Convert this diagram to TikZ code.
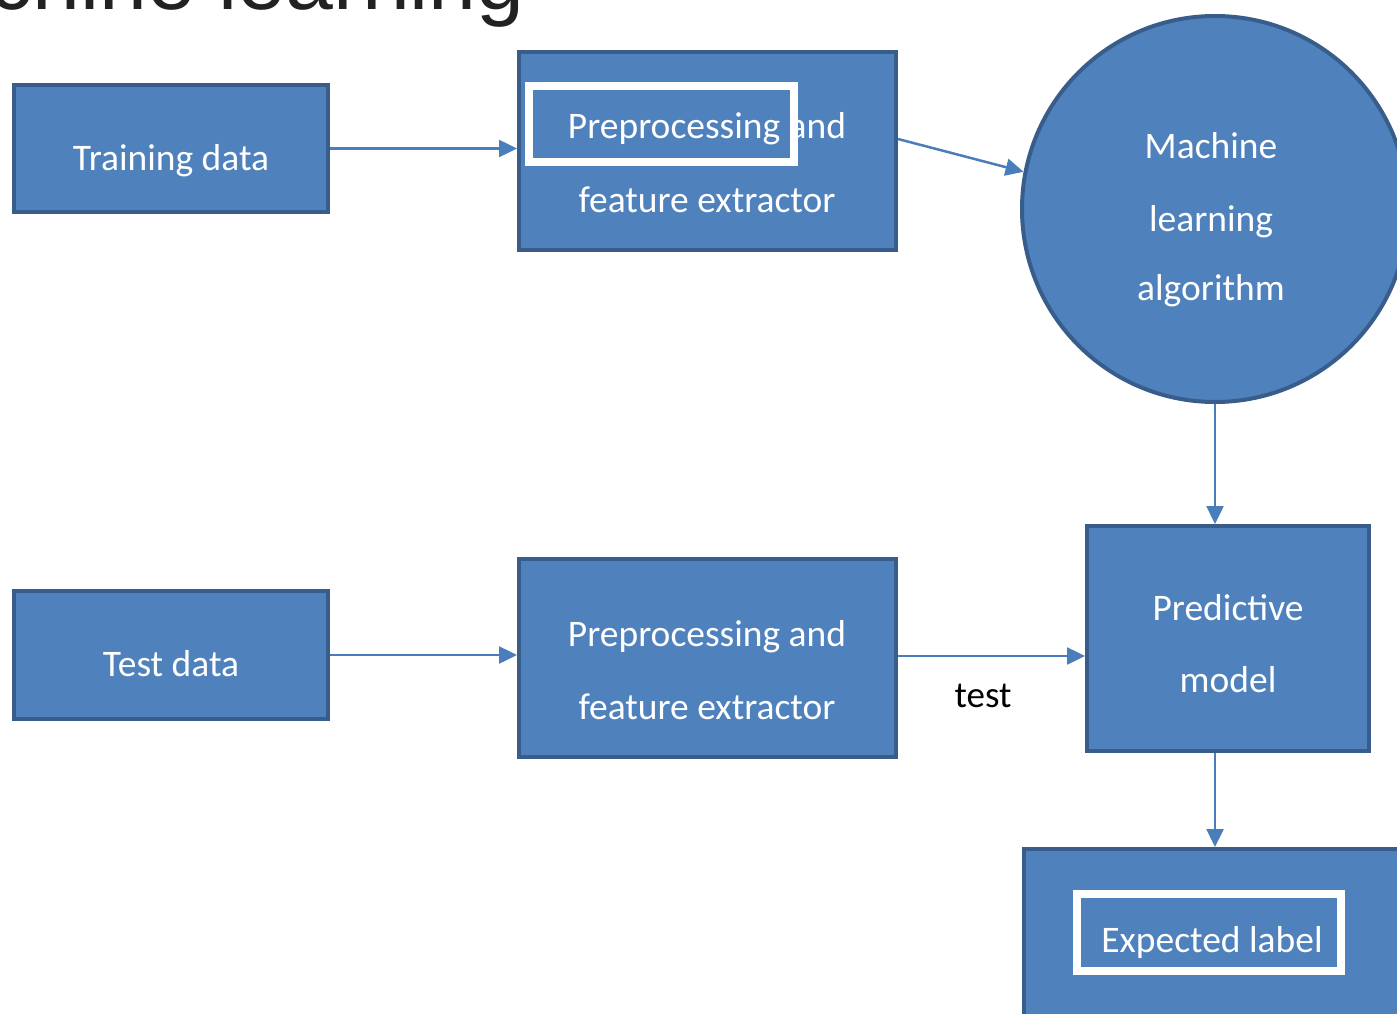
\documentclass[tikz,border=0pt]{standalone}
\usepackage{fontspec}
\setmainfont{Carlito}
\newfontfamily\titlefont{Liberation Sans}
\usetikzlibrary{arrows.meta,calc}
\definecolor{boxfill}{HTML}{4F81BD}
\definecolor{boxline}{HTML}{385D8A}
\definecolor{arrowc}{HTML}{4A7EBB}
\definecolor{titlec}{HTML}{222222}
\begin{document}
\begin{tikzpicture}[x=1pt,y=-1pt,
  blk/.style={draw=boxline, fill=boxfill, line width=4pt, rectangle, inner sep=0pt},
  txt/.style={text=white, font=\fontsize{37.5}{45}\selectfont, anchor=base, inner sep=0pt},
  conn/.style={draw=arrowc, line width=2.5pt, -{Triangle[length=18pt,width=17pt]}},
  hl/.style={draw=white, line width=8pt, rectangle, inner sep=0pt}]
\useasboundingbox (0,0) rectangle (1397,1014);
\clip (0,0) rectangle (1397,1014);
\fill[white] (0,0) rectangle (1397,1014);
% title (cut off by the top edge)
\node[text=titlec, font=\titlefont\fontsize{86}{90}\selectfont, anchor=base east, inner sep=0pt] (title) at (525,10) {Machine learning};
% blocks
\node[blk, minimum width=314pt, minimum height=127pt] (tr) at (171,148.5) {};
\node[blk, minimum width=314pt, minimum height=128pt] (te) at (171,655) {};
\node[blk, minimum width=377pt, minimum height=198pt] (pp1) at (707.5,151) {};
\node[blk, minimum width=377pt, minimum height=198pt] (pp2) at (707.5,658) {};
\node[blk, circle, minimum size=386pt] (mla) at (1215,209) {};
\node[blk, minimum width=282pt, minimum height=225pt] (pm) at (1228,638.5) {};
\node[blk, minimum width=384pt, minimum height=173pt] (el) at (1216,935.5) {};
% highlight frames
\node[hl, minimum width=265pt, minimum height=76pt] (hl1) at (661.5,124) {};
\node[hl, minimum width=264pt, minimum height=77pt] (hl2) at (1209,932.5) {};
% texts
\node[txt] (trt) at (171,170) {Training data};
\node[txt] (tet) at (171,676) {Test data};
\node[txt] (pp1a) at (707,139) {Preprocessing and};
\node[txt] (pp1b) at (707,212) {feature extractor};
\node[txt] (pp2a) at (707,646) {Preprocessing and};
\node[txt] (pp2b) at (707,719) {feature extractor};
\node[txt] (mlaa) at (1211,158) {Machine};
\node[txt] (mlab) at (1211,231.5) {learning};
\node[txt] (mlac) at (1211,300) {algorithm};
\node[txt] (pma) at (1228,620) {Predictive};
\node[txt] (pmb) at (1228,692.5) {model};
\node[txt] (elt) at (1212,952.5) {Expected label};
\node[txt, text=black, font=\fontsize{37}{44}\selectfont] (lt) at (983,707) {test};
% connectors
\coordinate (p1out) at ($(pp1.east)+(0,-12)$);
\draw[conn] (tr.east) -- (tr.east -| pp1.west);
\draw[conn] (p1out) -- (mla.169);
\draw[conn] (mla.south) -- (mla.south |- pm.north);
\draw[conn] (te.east) -- (te.east -| pp2.west);
\draw[conn] ($(pp2.east)+(0,-2)$) -- ($(pp2.east -| pm.west)+(0,-2)$);
\draw[conn] (pm.south -| mla.south) -- (el.north -| mla.south);
\end{tikzpicture}
\end{document}
